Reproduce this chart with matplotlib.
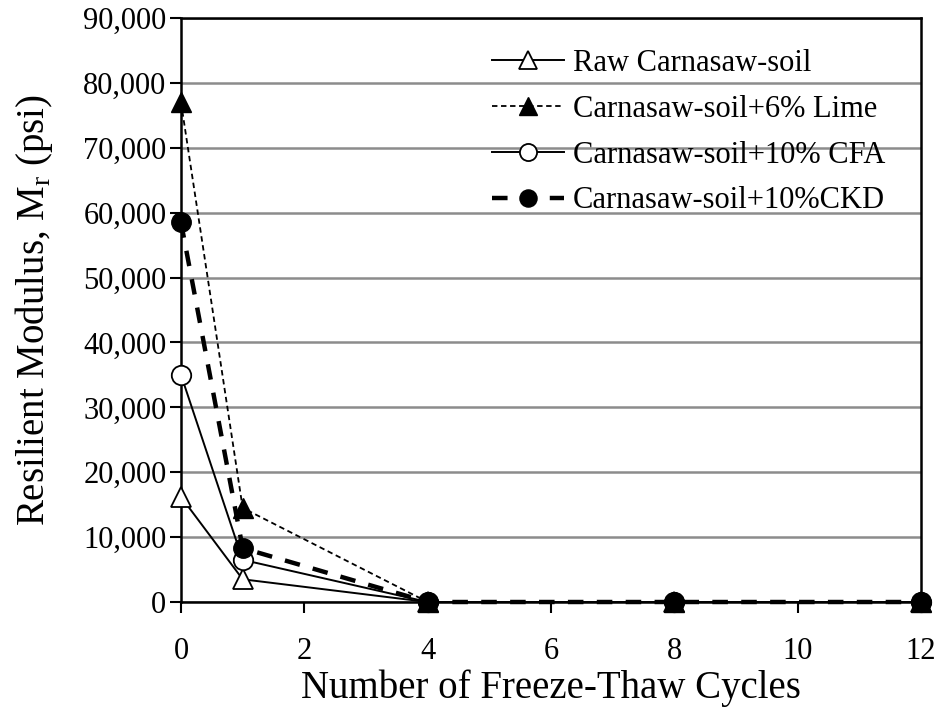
import matplotlib
matplotlib.use("Agg")
import matplotlib.pyplot as plt
from matplotlib.ticker import FuncFormatter

plt.rcParams['font.family'] = ['Liberation Serif', 'DejaVu Serif']

cycles = [0, 1, 4, 8, 12]
raw = [16200, 3500, 0, 0, 0]
lime = [77000, 14500, 0, 0, 0]
cfa = [35000, 6500, 0, 0, 0]
ckd = [58500, 8300, 0, 0, 0]
labels = ["Raw Carnasaw-soil", "Carnasaw-soil+6% Lime",
          "Carnasaw-soil+10% CFA", "Carnasaw-soil+10%CKD"]
xticks = [0, 2, 4, 6, 8, 10, 12]
yticks = list(range(0, 90001, 10000))

fig = plt.figure(figsize=(9.41, 7.13), dpi=100)
ax = fig.add_axes([181/941, 1-602/713, (921-181)/941, (602-18)/713])

ax.plot(cycles, raw, '-', color='black', lw=1.4, marker='^', ms=14,
        mfc='white', mec='black', mew=1.3, label=labels[0], clip_on=False, zorder=3)
ax.plot(cycles, lime, color='black', lw=1.3, ls=(0, (3, 2)), marker='^', ms=14,
        mfc='black', mec='black', label=labels[1], clip_on=False, zorder=4)
ax.plot(cycles, cfa, '-', color='black', lw=1.4, marker='o', ms=14,
        mfc='white', mec='black', mew=1.3, label=labels[2], clip_on=False, zorder=5)
ax.plot(cycles, ckd, color='black', lw=3.2, ls=(0, (3.5, 3)), marker='o', ms=14,
        mfc='black', mec='black', label=labels[3], clip_on=False, zorder=6)

ax.set_xlim(0, 12)
ax.set_ylim(0, 90000)
ax.set_xticks(xticks)
ax.set_yticks(yticks)
ax.yaxis.set_major_formatter(FuncFormatter(lambda v, p: f"{int(v):,}"))
ax.grid(axis='y', color='#8c8c8c', lw=1.8)
ax.set_axisbelow(True)
for s in ax.spines.values():
    s.set_linewidth(1.8)
    s.set_color('black')
ax.tick_params(direction='out', length=8, width=1.5, labelsize=22,
               colors='black')
ax.tick_params(axis='y', pad=2.5)
ax.tick_params(axis='x', pad=17)

ax.set_xlabel("Number of Freeze-Thaw Cycles", fontsize=28)
ax.set_ylabel("Resilient Modulus, M$_\\mathregular{r}$ (psi)", fontsize=28)
ax.xaxis.set_label_coords(0.5, -0.115)
ax.yaxis.set_label_coords(-0.17, 0.5)

leg = ax.legend(loc='upper left', bbox_to_anchor=(492/941, 1-49/713),
                bbox_transform=fig.transFigure, frameon=False,
                fontsize=22, handlelength=2.35, handletextpad=0.3,
                labelspacing=0.55, markerscale=0.88, borderaxespad=0, borderpad=0)

fig.savefig("out.png", dpi=100)
